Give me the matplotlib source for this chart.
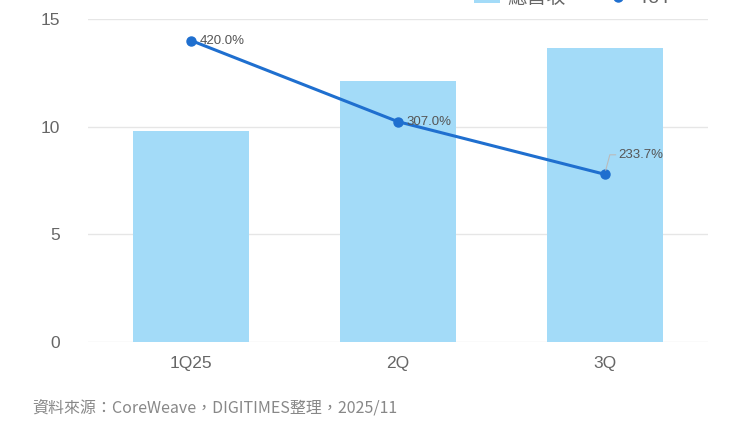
import matplotlib
import matplotlib.pyplot as plt
from matplotlib.lines import Line2D
from matplotlib.patches import Patch

matplotlib.use("Agg")

# data (億美元 / YoY %)
quarters = ["1Q25", "2Q", "3Q"]
revenue = [9.8, 12.12, 13.65]
yoy = [420.0, 307.0, 233.7]
yoy_labels = ["420.0%", "307.0%", "233.7%"]

bar_color = "#a3dbf8"
line_color = "#1f6fcf"
grid_color = "#e6e6e6"
tick_color = "#666666"

plt.rcParams["font.family"] = ["Liberation Sans", "Noto Sans CJK TC", "DejaVu Sans"]

fig = plt.figure(figsize=(7.5, 4.22), dpi=100)
ax = fig.add_axes([0.117, 0.1896, 0.827, 0.7654])

x = list(range(len(quarters)))
ax.bar(x, revenue, width=0.56, color=bar_color, zorder=2)
ax.set_xlim(-0.5, 2.5)
ax.set_ylim(0, 15)
ax.set_yticks([0, 5, 10, 15])
ax.set_xticks(x)
ax.set_xticklabels(quarters)
ax.tick_params(axis="both", length=0, labelsize=12.5, colors=tick_color)
ax.tick_params(axis="y", pad=20)
ax.tick_params(axis="x", pad=10)
ax.grid(axis="y", color=grid_color, lw=1, zorder=0)
for s in ax.spines.values():
    s.set_visible(False)

# hidden secondary axis for YoY
ax2 = ax.twinx()
ax2.set_ylim(0, 450)
ax2.axis("off")
ax2.plot(x, yoy, color=line_color, lw=2.2, marker="o", ms=6.5, zorder=3)

ax2.annotate(yoy_labels[0], (x[0], yoy[0]), xytext=(6, 0), textcoords="offset points",
             va="center", ha="left", fontsize=9.5, color="#555555")
ax2.annotate(yoy_labels[1], (x[1], yoy[1]), xytext=(6, 0), textcoords="offset points",
             va="center", ha="left", fontsize=9.5, color="#555555")
ax2.annotate(yoy_labels[2], (x[2], yoy[2]), xytext=(10, 14), textcoords="offset points",
             va="center", ha="left", fontsize=9.5, color="#555555",
             arrowprops=dict(arrowstyle="-", color="#bbbbbb", lw=0.8,
                             connectionstyle="angle,angleA=0,angleB=75,rad=0",
                             shrinkA=0, shrinkB=3))

# legend cut off at the top like the source
handles = [Patch(facecolor=bar_color, edgecolor="none"),
           Line2D([0], [0], color=line_color, lw=2.2, marker="o", ms=6.5)]
fig.legend(handles, ["總營收", "YoY"], loc="center", bbox_to_anchor=(0.765, 1.004),
           ncol=2, frameon=False, fontsize=14, labelcolor=tick_color,
           handlelength=1.3, columnspacing=2.0, handletextpad=0.4)

fig.text(0.043, 0.022, "資料來源：CoreWeave，DIGITIMES整理，2025/11",
         fontsize=11.5, color="#888888", family=["Noto Sans CJK TC", "DejaVu Sans"])

fig.savefig("out.png", dpi=100)
